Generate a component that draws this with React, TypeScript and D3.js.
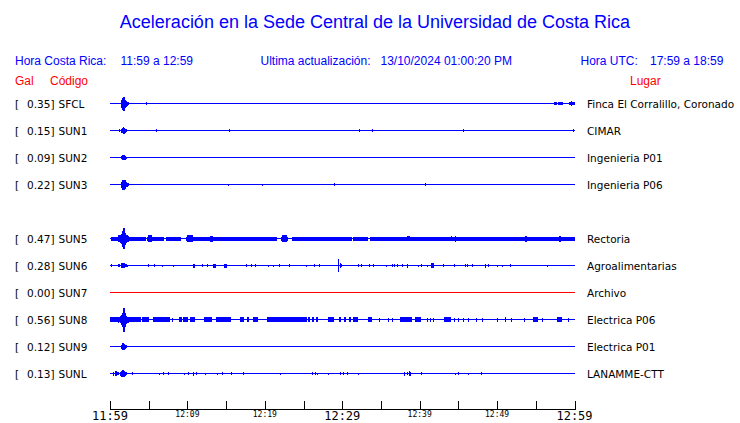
import React from "react";
import * as d3 from "d3";

// ---- data ----
const stationCodes = ["SFCL", "SUN1", "SUN2", "SUN3", "SUN5", "SUN6", "SUN7", "SUN8", "SUN9", "SUNL"];
const stationSlots = [0, 1, 2, 3, 5, 6, 7, 8, 9, 10];
const galValues = [0.35, 0.15, 0.09, 0.22, 0.47, 0.28, 0.0, 0.56, 0.12, 0.13];
const places = [
  "Finca El Corralillo, Coronado",
  "CIMAR",
  "Ingenieria P01",
  "Ingenieria P06",
  "Rectoria",
  "Agroalimentarias",
  "Archivo",
  "Electrica P06",
  "Electrica P01",
  "LANAMME-CTT",
];
const online = [true, true, true, true, true, true, false, true, true, true];

// spikes: [minutes since 11:59, half amplitude]
const sfclSpikes: [number, number][] = [
  [1.42, 4], [1.55, 6], [1.68, 7], [1.81, 7], [1.94, 4], [2.07, 3], [2.2, 2], [2.32, 1.5], [4.65, 1.5], [59.55, 2.5],
];
const sfclBands: [number, number, number][] = [
  [57.35, 57.73, 1.5], [57.86, 58.51, 1.5], [59.29, 60, 1.5],
];
const sun1Spikes: [number, number][] = [
  [1.16, 1.5], [1.38, 2], [1.55, 2.5], [1.68, 3.3], [1.81, 3], [1.94, 2], [2.07, 1.5],
  [5.98, 1.5], [15.41, 1.3], [32.12, 1.5], [33.88, 1.5], [45.63, 1.5], [59.84, 1.5],
];
const sun2Spikes: [number, number][] = [
  [1.42, 1.5], [1.55, 2.5], [1.68, 2.5], [1.81, 2.5], [1.94, 2], [2.07, 1],
];
const sun3Spikes: [number, number][] = [
  [1.42, 3], [1.55, 5], [1.68, 5], [1.81, 5], [1.94, 4.5], [2.07, 2.5], [2.2, 2], [2.32, 1.5],
  [15.2, 1], [19.67, 1], [28.97, 1.5], [40.72, 1.5],
];
const sun5Spikes: [number, number][] = [
  [1.03, 3.5], [1.16, 3.5], [1.29, 4], [1.42, 5], [1.55, 8], [1.68, 10.5], [1.81, 10.5],
  [1.94, 6], [2.07, 4], [2.2, 3.5], [2.32, 3], [44.0, 2.5],
];
const sun5Bands: [number, number, number][] = [
  [0.13, 4.65, 2], [4.84, 7.01, 2], [7.19, 9.17, 2], [9.82, 21.53, 2], [22.09, 22.99, 2],
  [23.51, 31.22, 2], [31.35, 33.32, 2], [33.52, 60, 2],
  [4.91, 5.42, 3.5], [9.95, 10.72, 3.5], [12.92, 13.3, 3], [22.22, 22.86, 3.5],
  [38.36, 38.75, 2.5], [44.5, 44.7, 3], [53.6, 53.8, 3], [58.0, 58.3, 3],
];
const sun6Spikes: [number, number][] = [
  [1.16, 1.5], [1.42, 2.5], [1.55, 2.5], [1.68, 2.5], [1.81, 2.5], [1.94, 1.5], [2.07, 1.5], [2.2, 1],
  [0.13, 1.5], [0.99, 1.5], [4.95, 1.5], [5.68, 1.5], [6.76, 1], [8.18, 1], [11.84, 1.5], [12.49, 1.5],
  [17.53, 1.5], [18.21, 1.5], [18.73, 1.5], [20.45, 1], [21.01, 1], [21.87, 1.5], [23.16, 1.5],
  [25.35, 1], [26.39, 1.5], [26.99, 1.5], [29.49, 6.3], [29.71, 2.5], [29.84, 1.5], [31.99, 1.5],
  [32.42, 1.5], [33.49, 1.5], [34.01, 1.5], [35.65, 1], [36.38, 1.5], [36.68, 1.5], [37.11, 1.5],
  [37.75, 1.5], [38.32, 2], [39.82, 1], [40.13, 1.5], [40.9, 1], [42.97, 1.5], [44.43, 1.5],
  [45.85, 1.5], [46.07, 1.5], [46.72, 1.5], [48.44, 2], [48.86, 1.5], [50.02, 1], [50.59, 1],
  [51.66, 1.5], [56.4, 1],
];
const sun6Bands: [number, number, number][] = [
  [10.72, 10.98, 2], [13.3, 13.69, 2], [14.72, 15.05, 2], [41.4, 41.85, 2.5],
];
const sun8Spikes: [number, number][] = [
  [1.03, 3], [1.29, 3.5], [1.42, 5], [1.55, 7], [1.68, 12], [1.81, 12], [1.94, 7], [2.07, 4],
  [2.2, 3], [2.32, 3],
  [7.97, 2], [34.74, 2], [35.87, 2], [36.38, 2], [40.98, 2], [41.33, 2], [41.76, 2], [44.43, 2],
  [44.99, 2], [45.63, 2], [46.28, 2], [47.23, 2], [48.01, 2], [50.02, 2], [51.79, 2], [53.51, 2],
  [55.76, 2], [59.19, 2],
];
const sun8Bands: [number, number, number][] = [
  [0, 4.0, 2.2], [4.17, 5.08, 2.2], [5.59, 7.75, 2.2], [8.91, 9.34, 2.2], [9.47, 10.04, 2.2],
  [10.37, 10.98, 2.2], [12.18, 13.14, 2.2], [13.69, 15.63, 2.2], [16.79, 17.35, 2.2],
  [17.73, 17.95, 2.2], [18.51, 19.08, 2.2], [20.24, 25.41, 2.2], [25.57, 25.83, 2.2],
  [26.09, 26.35, 2.2], [26.61, 26.87, 2.2], [28.12, 28.89, 2.2], [29.58, 29.84, 2.2],
  [30.22, 30.48, 2.2], [30.87, 31.13, 2.2], [31.42, 32.07, 2.2], [33.36, 33.8, 2.2],
  [37.46, 38.97, 2.2], [39.39, 40.17, 2.2], [43.18, 44.0, 2.2], [51.08, 51.21, 2.2],
  [54.6, 55.32, 2.2], [57.77, 58.42, 2.2],
];
const sun9Spikes: [number, number][] = [
  [1.42, 2], [1.55, 3.5], [1.68, 3.5], [1.81, 3], [1.94, 2], [2.07, 1.5],
];
const sunlSpikes: [number, number][] = [
  [0.43, 2], [0.65, 2.5], [0.78, 2.5], [0.9, 1.5], [1.07, 1.5], [1.29, 2], [1.42, 3], [1.55, 3.5],
  [1.68, 3.5], [1.81, 3], [1.94, 2], [2.07, 1.5],
  [2.88, 1.5], [6.37, 1], [6.88, 1.5], [7.53, 1.5], [9.6, 1], [10.11, 1.5], [10.76, 2], [11.07, 1.5],
  [12.27, 1], [13.86, 1], [14.5, 1.5], [15.63, 1.5], [17.22, 1.5], [21.96, 1], [26.13, 1.5],
  [26.48, 1.5], [26.74, 1], [28.2, 1], [29.75, 1.5], [30.13, 1.5], [30.65, 1.5], [32.07, 1],
  [38.01, 2], [38.32, 1.5], [38.68, 2.5], [38.81, 2], [40.17, 1.5], [44.56, 1], [44.99, 1.5],
  [46.28, 1], [47.92, 1.5],
];
const stationSpikes = [sfclSpikes, sun1Spikes, sun2Spikes, sun3Spikes, sun5Spikes, sun6Spikes, [], sun8Spikes, sun9Spikes, sunlSpikes];
const stationBands = [sfclBands, [], [], [], sun5Bands, sun6Bands, [], sun8Bands, [], []];

const tickMinutes = [0, 5, 10, 15, 20, 25, 30, 35, 40, 45, 50, 55, 60];
const tickLabels = ["11:59", "", "12:09", "", "12:19", "", "12:29", "", "12:39", "", "12:49", "", "12:59"];
const majorTicks = [0, 30, 60];

const title = "Aceleración en la Sede Central de la Universidad de Costa Rica";
const localRange = "11:59 a 12:59";
const utcRange = "17:59 a 18:59";
const updated = "13/10/2024 01:00:20 PM";

// ---- layout ----
const W = 740;
const H = 423;
const BLUE = "#0000ff";
const RED = "#ff0000";

export default function App() {
  const x = d3.scaleLinear().domain([0, 60]).range([110, 574.5]);
  const row = d3.scaleLinear().domain([0, 10]).range([103, 373]);
  const amp = d3.scaleLinear().domain([0, 10]).range([0, 10]);
  const px = (m: number) => Math.round(x(m)) + 0.5;
  const sans = "'Liberation Sans', Arial, sans-serif";
  const dv = "'DejaVu Sans', sans-serif";
  const mono = "'DejaVu Sans Mono', monospace";
  const axisY = 409.5;

  return (
    <svg
      width={W}
      height={H}
      style={{ position: "absolute", left: 0, top: 0, background: "#fff" }}
    >
      <rect x={0} y={0} width={W} height={H} fill="#fff" />
      <text x={375} y={28} textAnchor="middle" fontFamily={sans} fontSize={18} fill={BLUE}>
        {title}
      </text>
      <g fontFamily={sans} fontSize={12} fill={BLUE}>
        <text x={15} y={65}>Hora Costa Rica:</text>
        <text x={120.5} y={65}>{localRange}</text>
        <text x={260.5} y={65}>Ultima actualización:</text>
        <text x={380.5} y={65}>{updated}</text>
        <text x={580.5} y={65}>Hora UTC:</text>
        <text x={650} y={65}>{utcRange}</text>
      </g>
      <g fontFamily={sans} fontSize={12} fill={RED}>
        <text x={15} y={85}>Gal</text>
        <text x={50} y={85}>Código</text>
        <text x={630} y={85}>Lugar</text>
      </g>

      {stationCodes.map((code, i) => {
        const base = row(stationSlots[i]);
        const yc = base + 0.5;
        const col = online[i] ? BLUE : RED;
        return (
          <g key={code}>
            <g fontFamily={dv} fontSize={10.5} fill="#000">
              <text x={15} y={base + 4.6}>[</text>
              <text x={54.5} y={base + 4.6} textAnchor="end">{galValues[i].toFixed(2) + "]"}</text>
              <text x={58.5} y={base + 4.6}>{code}</text>
              <text x={587} y={base + 4.6}>{places[i]}</text>
            </g>
            <line x1={x(0)} x2={x(60) + 0.5} y1={yc} y2={yc} stroke={col} strokeWidth={1} shapeRendering="crispEdges" />
            {stationBands[i].map((b, j) => (
              <rect
                key={"b" + j}
                x={Math.round(x(b[0]))}
                width={Math.max(1, Math.round(x(b[1])) - Math.round(x(b[0])))}
                y={yc - amp(b[2])}
                height={2 * amp(b[2])}
                fill={col}
                shapeRendering="crispEdges"
              />
            ))}
            {stationSpikes[i].map((s, j) => (
              <line
                key={"s" + j}
                x1={px(s[0])}
                x2={px(s[0])}
                y1={yc - amp(s[1])}
                y2={yc + amp(s[1])}
                stroke={col}
                strokeWidth={1}
                shapeRendering="crispEdges"
              />
            ))}
          </g>
        );
      })}

      <g>
        <line x1={x(0)} x2={x(60) + 0.5} y1={axisY} y2={axisY} stroke="#000" strokeWidth={1} shapeRendering="crispEdges" />
        {tickMinutes.map((m, i) => (
          <g key={m}>
            <line x1={px(m)} x2={px(m)} y1={401} y2={axisY} stroke="#000" strokeWidth={1} shapeRendering="crispEdges" />
            {tickLabels[i] && (
              majorTicks.includes(m) ? (
                <text x={x(m)} y={420} textAnchor="middle" fontFamily={mono} fontSize={12} fill="#000">
                  {tickLabels[i]}
                </text>
              ) : (
                <text x={x(m)} y={417} textAnchor="middle" fontFamily={mono} fontSize={8} fill="#000">
                  {tickLabels[i]}
                </text>
              )
            )}
          </g>
        ))}
      </g>
    </svg>
  );
}
